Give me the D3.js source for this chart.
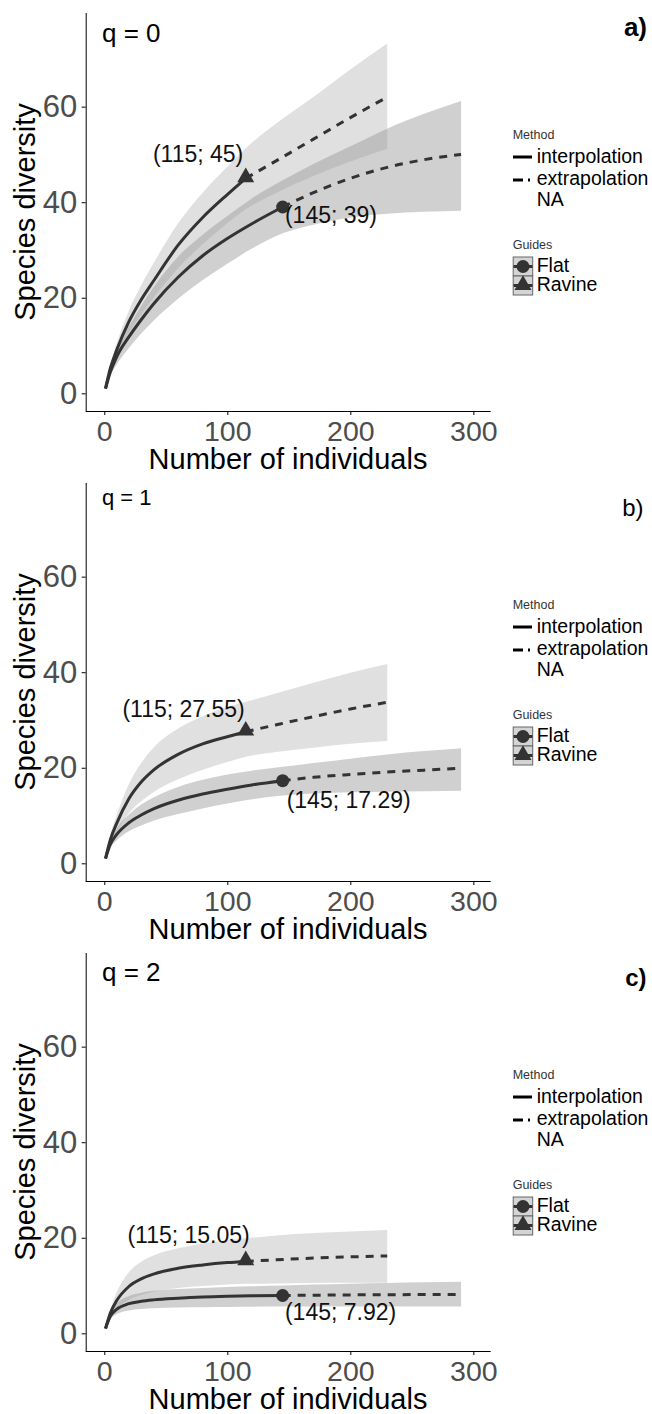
<!DOCTYPE html>
<html lang="en">
<head>
<meta charset="UTF-8">
<script src="https://d3js.org/d3.v7.min.js"></script>
<style>
  body { margin: 0; background: #fff; font-family: "Liberation Sans", Arial, sans-serif; }
  svg text { font-family: "Liberation Sans", Arial, sans-serif; }
</style>
</head>
<body>
<svg id="chart" width="652" height="1414"></svg>
<script>
// sample sizes (number of individuals) along each curve
const flatN   = [1, 5, 10, 20, 30, 40, 60, 80, 100, 120, 145, 170, 200, 230, 260, 290];
const ravineN = [1, 5, 10, 20, 30, 40, 60, 80, 100, 115, 140, 170, 200, 230];
const flatObs = 145;
const ravineObs = 115;

// q = 0
const q0FlatY   = [1, 4.5, 7.6, 11.8, 15.4, 18.7, 24.3, 28.8, 32.4, 35.5, 39, 42, 45, 47.3, 48.9, 50];
const q0FlatLo  = [1, 3.8, 6, 9.5, 12.5, 15.2, 19.8, 23.7, 27.1, 30.3, 33.5, 35.3, 36.8, 37.6, 38, 38.2];
const q0FlatHi  = [1, 5.2, 9, 14, 18.3, 22.2, 28.6, 33.2, 37.1, 40.8, 44.6, 48, 51.7, 55.4, 58.5, 61.2];
const q0RavY    = [1, 5.3, 9, 15, 19.6, 23.5, 31, 36.8, 41.6, 45, 48.7, 53.2, 57.7, 62];
const q0RavLo   = [1, 4.5, 7.6, 12.6, 16.5, 20, 26.2, 31.2, 35.6, 38.5, 42, 45.5, 48.5, 51.2];
const q0RavHi   = [1, 6, 10.4, 17.3, 22.6, 27.2, 35.6, 42, 47.4, 51.3, 56.5, 62, 67.8, 73.2];

// q = 1
const q1FlatY   = [1, 4, 6, 8.5, 10.1, 11.4, 13.2, 14.5, 15.5, 16.4, 17.29, 18, 18.6, 19.1, 19.5, 19.9];
const q1FlatLo  = [1, 3.3, 4.8, 6.7, 7.9, 8.9, 10.3, 11.5, 12.5, 13.4, 14.2, 14.6, 14.9, 15, 15.1, 15.2];
const q1FlatHi  = [1, 4.7, 7.2, 10.2, 12.3, 13.8, 16, 17.5, 18.6, 19.4, 20.2, 21, 21.9, 22.8, 23.5, 24.1];
const q1RavY    = [1, 5, 8.3, 13.5, 17, 19.5, 22.8, 25, 26.5, 27.55, 29, 30.7, 32.3, 33.7];
const q1RavLo   = [1, 4, 6.5, 10.5, 13, 14.9, 17.6, 19.6, 21.2, 22.3, 23.3, 24.2, 25, 25.6];
const q1RavHi   = [1, 6, 10, 16.6, 21, 24.2, 28.2, 30.8, 32.7, 33.8, 35.6, 37.8, 39.9, 41.7];

// q = 2
const q2FlatY   = [1, 3.6, 5, 6.2, 6.7, 7, 7.35, 7.6, 7.75, 7.85, 7.92, 7.98, 8.04, 8.08, 8.12, 8.15];
const q2FlatLo  = [1, 3, 4, 4.8, 5.1, 5.25, 5.4, 5.45, 5.5, 5.55, 5.6, 5.6, 5.6, 5.6, 5.6, 5.6];
const q2FlatHi  = [1, 4.3, 6.2, 7.8, 8.5, 8.9, 9.3, 9.5, 9.7, 9.85, 10, 10.2, 10.4, 10.55, 10.7, 10.8];
const q2RavY    = [1, 4.3, 6.8, 9.8, 11.4, 12.4, 13.6, 14.3, 14.8, 15.05, 15.4, 15.75, 16, 16.2];
const q2RavLo   = [1, 3.6, 5.2, 7, 8, 8.7, 9.5, 9.9, 10.2, 10.35, 10.45, 10.55, 10.6, 10.6];
const q2RavHi   = [1, 5, 8.5, 12.8, 15, 16.3, 17.8, 18.8, 19.5, 19.9, 20.5, 21, 21.3, 21.6];

const qLabels = ["q = 0", "q = 1", "q = 2"];
const panelTags = ["a)", "b)", "c)"];
const flatLabels = ["(145; 39)", "(145; 17.29)", "(145; 7.92)"];
const ravineLabels = ["(115; 45)", "(115; 27.55)", "(115; 15.05)"];
const xTicks = [0, 100, 200, 300];
const yTicks = [0, 20, 40, 60];
const methodItems = ["interpolation", "extrapolation", "NA"];
const guideItems = ["Flat", "Ravine"];

const toRows = (n, y, lo, hi) => n.map((d, i) => ({ n: d, y: y[i], lo: lo[i], hi: hi[i] }));

const panels = [
  { flat: toRows(flatN, q0FlatY, q0FlatLo, q0FlatHi), ravine: toRows(ravineN, q0RavY, q0RavLo, q0RavHi) },
  { flat: toRows(flatN, q1FlatY, q1FlatLo, q1FlatHi), ravine: toRows(ravineN, q1RavY, q1RavLo, q1RavHi) },
  { flat: toRows(flatN, q2FlatY, q2FlatLo, q2FlatHi), ravine: toRows(ravineN, q2RavY, q2RavLo, q2RavHi) }
];

// layout bits per panel
const panelTop = [0, 470, 940];
const qFont = [26, 22, 26];
const qBase = [41.7, 35, 40.5];
const tagWeight = ["bold", "normal", "bold"];
const tagFont = [26, 24, 24];
const tagBase = [36, 46, 46];
const tagRight = [647, 643.5, 646.5];
const ravLabelOff = [[-2.5, -16.6], [-1, -15], [4, -18]];
const flatLabelOff = [[2.3, 16.3], [4, 27.6], [2.3, 24.6]];

const svg = d3.select("#chart");
const lineColor = "#333333";

const x = d3.scaleLinear().domain([-15.1, 314.1]).range([85.7, 490.7]);
const y = d3.scaleLinear().domain([-3.7, 79.6]).range([411, 13]);

const area = d3.area().x(d => x(d.n)).y0(d => y(d.lo)).y1(d => y(d.hi)).curve(d3.curveMonotoneX);
const line = d3.line().x(d => x(d.n)).y(d => y(d.y)).curve(d3.curveMonotoneX);

panels.forEach((p, i) => {
  const g = svg.append("g").attr("transform", `translate(0,${panelTop[i]})`);

  // ribbons
  g.append("path").datum(p.ravine).attr("d", area).attr("fill", "#e0e0e0");
  g.append("path").datum(p.flat).attr("d", area).attr("fill", "rgba(150,150,150,0.45)");

  // curves
  [[p.flat, flatObs], [p.ravine, ravineObs]].forEach(([rows, obs]) => {
    g.append("path").datum(rows.filter(d => d.n <= obs)).attr("d", line)
      .attr("fill", "none").attr("stroke", lineColor).attr("stroke-width", 3);
    g.append("path").datum(rows.filter(d => d.n >= obs)).attr("d", line)
      .attr("fill", "none").attr("stroke", lineColor).attr("stroke-width", 3)
      .attr("stroke-dasharray", "8,7");
  });

  // observed points
  const fo = p.flat.find(d => d.n === flatObs);
  const ro = p.ravine.find(d => d.n === ravineObs);
  g.append("circle").attr("cx", x(fo.n)).attr("cy", y(fo.y)).attr("r", 6.5).attr("fill", lineColor);
  g.append("path").attr("d", d3.symbol(d3.symbolTriangle, 125)())
    .attr("transform", `translate(${x(ro.n)},${y(ro.y) - 1})`).attr("fill", lineColor);

  g.append("text").attr("x", x(ro.n) + ravLabelOff[i][0]).attr("y", y(ro.y) + ravLabelOff[i][1])
    .attr("text-anchor", "end").attr("font-size", 23).attr("fill", "#111").text(ravineLabels[i]);
  g.append("text").attr("x", x(fo.n) + flatLabelOff[i][0]).attr("y", y(fo.y) + flatLabelOff[i][1])
    .attr("font-size", 23).attr("fill", "#111").text(flatLabels[i]);

  // axes
  const ya = g.append("g").attr("transform", "translate(85.7,0)")
    .call(d3.axisLeft(y).tickValues(yTicks).tickSize(4).tickPadding(4.5));
  ya.select(".domain").attr("stroke", "#000").attr("d", "M0.5,13V411.5");
  ya.selectAll("text").attr("font-size", 31).attr("fill", "#4d4d4d").attr("font-family", null);

  const xa = g.append("g").attr("transform", "translate(0,411)")
    .call(d3.axisBottom(x).tickValues(xTicks).tickSize(4).tickPadding(6));
  xa.select(".domain").attr("stroke", "#000").attr("d", "M85.7,0.5H490.7");
  xa.selectAll("text").attr("font-size", 28.5).attr("fill", "#4d4d4d").attr("font-family", null);

  g.append("text").attr("x", 288).attr("y", 468.5).attr("text-anchor", "middle")
    .attr("font-size", 29).attr("fill", "#000").text("Number of individuals");
  g.append("text").attr("transform", "translate(35,212) rotate(-90)").attr("text-anchor", "middle")
    .attr("font-size", 29).attr("fill", "#000").text("Species diversity");

  g.append("text").attr("x", 102).attr("y", qBase[i]).attr("font-size", qFont[i]).text(qLabels[i]);
  g.append("text").attr("x", tagRight[i]).attr("y", tagBase[i]).attr("text-anchor", "end")
    .attr("font-size", tagFont[i]).attr("font-weight", tagWeight[i]).text(panelTags[i]);

  // legend
  const lg = g.append("g");
  lg.append("text").attr("x", 512.7).attr("y", 139).attr("font-size", 12.5).attr("fill", "#333").text("Method");
  methodItems.forEach((m, k) => {
    lg.append("text").attr("x", 536.7).attr("y", 163 + k * 21.5).attr("font-size", 19.5).text(m);
  });
  lg.append("line").attr("x1", 513).attr("x2", 532).attr("y1", 157).attr("y2", 157)
    .attr("stroke", "#000").attr("stroke-width", 3);
  lg.append("line").attr("x1", 513).attr("x2", 532).attr("y1", 180).attr("y2", 180)
    .attr("stroke", "#000").attr("stroke-width", 3).attr("stroke-dasharray", "10,5,2,10");

  lg.append("text").attr("x", 512.7).attr("y", 249).attr("font-size", 12.5).attr("fill", "#333").text("Guides");
  guideItems.forEach((gd, k) => {
    const by = 257 + k * 19;
    lg.append("rect").attr("x", 513.2).attr("y", by).attr("width", 19.5).attr("height", 19)
      .attr("fill", "#d4d4d4").attr("stroke", "#666").attr("stroke-width", 1);
    lg.append("line").attr("x1", 513.5).attr("x2", 532.5).attr("y1", by + 9.5).attr("y2", by + 9.5)
      .attr("stroke", lineColor).attr("stroke-width", 3);
    if (k === 0) {
      lg.append("circle").attr("cx", 523).attr("cy", by + 9.5).attr("r", 6.5).attr("fill", lineColor);
    } else {
      lg.append("path").attr("d", d3.symbol(d3.symbolTriangle, 125)())
        .attr("transform", `translate(523,${by + 9})`).attr("fill", lineColor);
    }
    lg.append("text").attr("x", 536.7).attr("y", by + 15).attr("font-size", 19.5).text(gd);
  });
});
</script>
</body>
</html>
